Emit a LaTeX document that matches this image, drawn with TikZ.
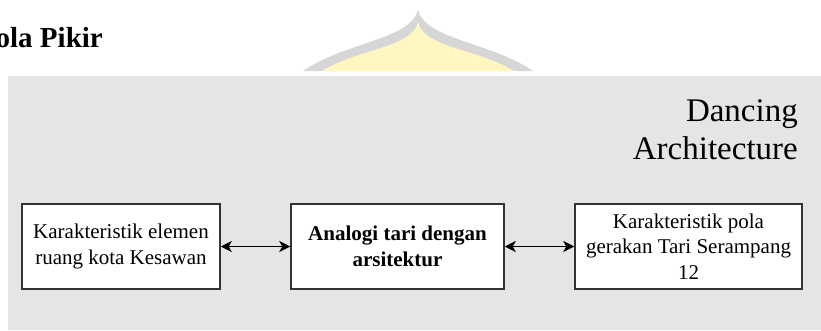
\documentclass[tikz,border=0pt]{standalone}
\usepackage{fontspec}
\setmainfont{Liberation Serif}
\usetikzlibrary{arrows.meta}
\definecolor{bggray}{HTML}{E5E5E5}
\definecolor{domegray}{HTML}{D6D6D6}
\definecolor{domeyellow}{HTML}{FFF6C2}
\definecolor{boxline}{HTML}{333333}
\tikzset{
  boxstyle/.style={draw=boxline, line width=1.5pt, fill=white, inner sep=0pt, align=center,
    font=\fontsize{21}{25.5}\selectfont, minimum height=85pt},
  linkarrow/.style={line width=1.7pt, {Stealth[length=11pt,width=11pt,inset=3pt]}-{Stealth[length=11pt,width=11pt,inset=3pt]}}
}
\begin{document}
\begin{tikzpicture}[x=1pt,y=-1pt]
\useasboundingbox (0,0) rectangle (821,330);
% watermark dome
\fill[domegray] (303,71) .. controls (345,42) and (410,40) .. (418,10)
  .. controls (426,40) and (491,42) .. (533,71) -- cycle;
\fill[domeyellow] (322,71) .. controls (360,48) and (412,48) .. (418,22)
  .. controls (424,48) and (476,48) .. (514,71) -- cycle;
% title
\node[anchor=base east, inner sep=0pt, font=\fontsize{29}{30}\selectfont\bfseries] (title) at (103,47) {Pola Pikir};
% background panel
\fill[bggray] (8,76) rectangle (821,330);
% heading
\node[anchor=north east, inner sep=0pt, align=right, font=\fontsize{33}{38}\selectfont] (head) at (798,99) {Dancing\\Architecture};
% boxes
\node[boxstyle, minimum width=198pt] (b1) at (121,246.5) {Karakteristik elemen\\ruang kota Kesawan};
\node[boxstyle, minimum width=213pt, font=\fontsize{21}{25.5}\selectfont\bfseries] (b2) at (397.5,246.5) {Analogi tari dengan\\arsitektur};
\node[boxstyle, minimum width=227pt] (b3) at (688.5,246.5) {Karakteristik pola\\gerakan Tari Serampang\\12};
% arrows
\draw[linkarrow] (b1) -- (b2);
\draw[linkarrow] (b2) -- (b3);
\end{tikzpicture}
\end{document}
